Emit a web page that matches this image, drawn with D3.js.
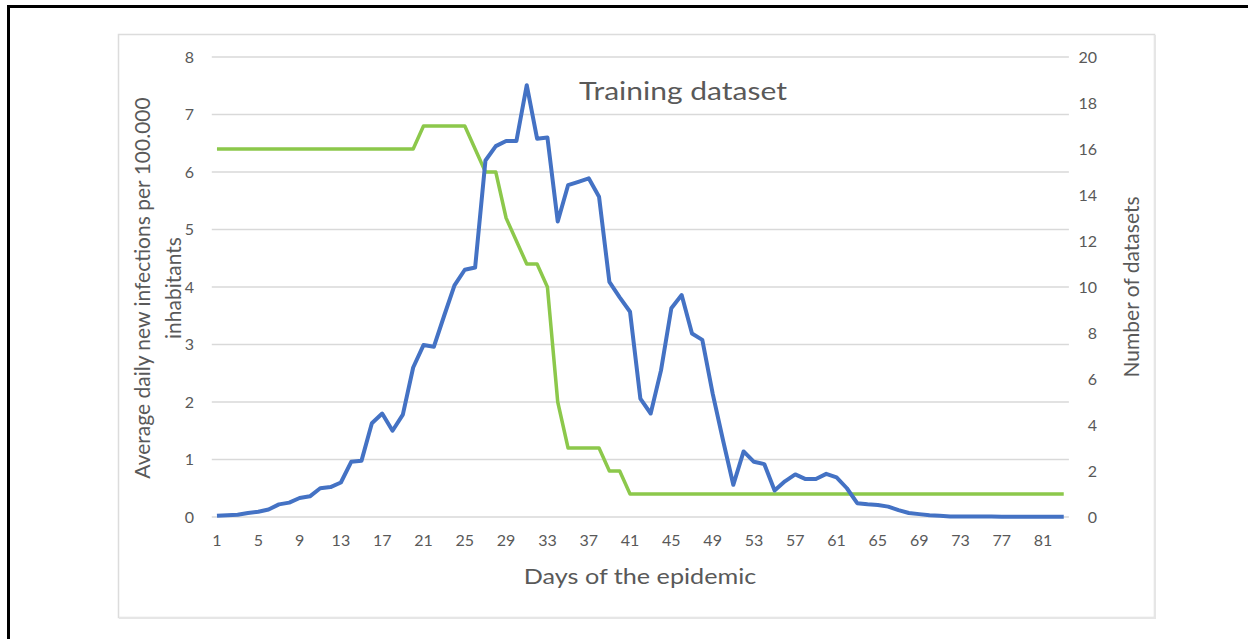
<!DOCTYPE html>
<html>
<head>
<meta charset="utf-8">
<script src="https://cdn.jsdelivr.net/npm/d3@7"></script>
<style>
  body { margin: 0; background: #fff; }
  svg { display: block; }
  text { font-family: Lato, "Open Sans", sans-serif; fill: #595959; }
</style>
</head>
<body>
<div id="my_dataviz"></div>
<script>
// days 1..83
var days = d3.range(1, 84)
var tickDays = [1, 5, 9, 13, 17, 21, 25, 29, 33, 37, 41, 45, 49, 53, 57, 61, 65, 69, 73, 77, 81]

// average daily new infections per 100.000 inhabitants (left axis)
var infections = [0.02, 0.03, 0.04, 0.07, 0.09, 0.13, 0.22, 0.25, 0.33, 0.36,
  0.50, 0.52, 0.60, 0.96, 0.98, 1.63, 1.80, 1.50, 1.78, 2.60,
  2.99, 2.96, 3.50, 4.03, 4.30, 4.34, 6.20, 6.45, 6.54, 6.54,
  7.51, 6.58, 6.60, 5.14, 5.77, 5.83, 5.89, 5.57, 4.09, 3.82,
  3.57, 2.06, 1.80, 2.55, 3.63, 3.86, 3.19, 3.08, 2.15, 1.34,
  0.56, 1.14, 0.96, 0.92, 0.46, 0.62, 0.74, 0.66, 0.66, 0.75,
  0.69, 0.50, 0.24, 0.22, 0.21, 0.18, 0.12, 0.07, 0.05, 0.03,
  0.02, 0.01, 0.01, 0.01, 0.01, 0.01, 0.005, 0.005, 0.005, 0.005,
  0.005, 0.005, 0.005]

// number of datasets (right axis)
var datasets = [16, 16, 16, 16, 16, 16, 16, 16, 16, 16,
  16, 16, 16, 16, 16, 16, 16, 16, 16, 16,
  17, 17, 17, 17, 17, 16, 15, 15, 13, 12,
  11, 11, 10, 5, 3, 3, 3, 3, 2, 2,
  1, 1, 1, 1, 1, 1, 1, 1, 1, 1,
  1, 1, 1, 1, 1, 1, 1, 1, 1, 1,
  1, 1, 1, 1, 1, 1, 1, 1, 1, 1,
  1, 1, 1, 1, 1, 1, 1, 1, 1, 1,
  1, 1, 1]

var leftTicks = [0, 1, 2, 3, 4, 5, 6, 7, 8]
var rightTicks = [0, 2, 4, 6, 8, 10, 12, 14, 16, 18, 20]

var width = 1248
    height = 639

var svg = d3.select("#my_dataviz")
  .append("svg")
    .attr("width", width)
    .attr("height", height)

// black outer frame (only left and top are inside the picture)
svg.append("path")
  .attr("d", "M8.5,700 L8.5,6.5 L1300,6.5")
  .attr("fill", "none")
  .attr("stroke", "#000")
  .attr("stroke-width", 3)

// chart area frame
svg.append("rect")
  .attr("x", 118.5).attr("y", 34.5)
  .attr("width", 1036).attr("height", 583)
  .attr("fill", "#fff")
  .attr("stroke", "#dcdcdc")
  .attr("stroke-width", 1.5)
svg.append("path")
  .attr("d", "M1155,35 L1155,618 L119,618")
  .attr("fill", "none")
  .attr("stroke", "#e6e6e6")
  .attr("stroke-width", 2)

// scales
var x = d3.scaleBand()
  .domain(days)
  .range([211.8, 1068.9])
var xc = function(d) { return x(d) + x.bandwidth() / 2 }
var yL = d3.scaleLinear().domain([0, 8]).range([517, 57])
var yR = d3.scaleLinear().domain([0, 20]).range([517, 57])

// gridlines
svg.append("g")
  .selectAll("line")
  .data(leftTicks)
  .enter()
  .append("line")
    .attr("x1", 211.8).attr("x2", 1068.9)
    .attr("y1", function(d) { return yL(d) })
    .attr("y2", function(d) { return yL(d) })
    .attr("stroke", "#d9d9d9")
    .attr("stroke-width", 1.5)

// left axis
var axL = svg.append("g")
  .attr("transform", "translate(194,0)")
  .call(d3.axisLeft(yL).tickValues(leftTicks).tickSize(0).tickPadding(0).tickFormat(d3.format("d")))
axL.select(".domain").remove()
axL.selectAll("text").style("font-size", "16px").style("fill", "#595959").style("font-family", "Lato")

// right axis
var axR = svg.append("g")
  .attr("transform", "translate(1097,0)")
  .call(d3.axisLeft(yR).tickValues(rightTicks).tickSize(0).tickPadding(0).tickFormat(d3.format("d")))
axR.select(".domain").remove()
axR.selectAll("text").style("font-size", "16px").style("fill", "#595959").style("font-family", "Lato")

// bottom axis
var axB = svg.append("g")
  .attr("transform", "translate(0,535)")
  .call(d3.axisBottom(x).tickValues(tickDays).tickSize(0).tickPadding(0))
axB.select(".domain").remove()
axB.selectAll("text").style("font-size", "16px").style("fill", "#595959").style("font-family", "Lato")

// lines
var lineL = d3.line()
  .x(function(d, i) { return xc(days[i]) })
  .y(function(d) { return yL(d) })
var lineR = d3.line()
  .x(function(d, i) { return xc(days[i]) })
  .y(function(d) { return yR(d) })

svg.append("path")
  .datum(datasets)
  .attr("d", lineR)
  .attr("fill", "none")
  .attr("stroke", "#8cc84b")
  .attr("stroke-width", 3.5)
  .attr("stroke-linejoin", "round")

svg.append("path")
  .datum(infections)
  .attr("d", lineL)
  .attr("fill", "none")
  .attr("stroke", "#4472c4")
  .attr("stroke-width", 4)
  .attr("stroke-linejoin", "round")

// title (horizontal texts are a bit wider in the original)
svg.append("text")
  .attr("transform", "translate(683,100) scale(1.2,1)")
  .attr("text-anchor", "middle")
  .style("font-size", "25px")
  .text("Training dataset")

// axis titles
svg.append("text")
  .attr("transform", "translate(150,288) rotate(-90)")
  .attr("text-anchor", "middle")
  .style("font-size", "21px")
  .text("Average daily new infections per 100.000")
svg.append("text")
  .attr("transform", "translate(181,288) rotate(-90)")
  .attr("text-anchor", "middle")
  .style("font-size", "21px")
  .text("inhabitants")
svg.append("text")
  .attr("transform", "translate(1139,287) rotate(-90)")
  .attr("text-anchor", "middle")
  .style("font-size", "21px")
  .text("Number of datasets")
svg.append("text")
  .attr("transform", "translate(640,584) scale(1.2,1)")
  .attr("text-anchor", "middle")
  .style("font-size", "21px")
  .text("Days of the epidemic")
</script>
</body>
</html>
